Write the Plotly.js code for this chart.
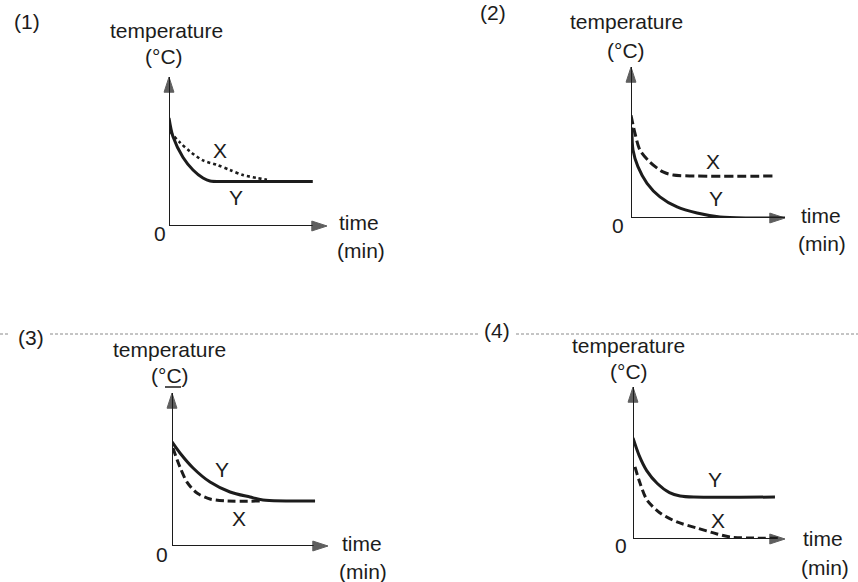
<!DOCTYPE html>
<html>
<head>
<meta charset="utf-8">
<script src="https://cdn.plot.ly/plotly-3.0.1.min.js"></script>
<style>html,body{margin:0;padding:0;background:#fff;}#chart{width:858px;height:582px;}</style>
</head>
<body>
<div id="chart"></div>
<script>
// ---- data (time in arbitrary units 0..10, temperature 0..10) ----
const panelLabels = ["(1)", "(2)", "(3)", "(4)"];
const yTitle = "temperature";
const yUnit = ["(°C)", "(°C)", "(°C)", "(°C)"];
const xTitle = "time";
const xUnit = "(min)";
const originLabel = "0";

// Panel 1
const p1TimeX = [0, 0.06, 0.7, 1.33, 2.15, 3.04, 3.86, 4.68, 5.57, 6.2];
const p1TempX = [7.1, 6.4, 5.6, 5.0, 4.4, 4.1, 3.76, 3.42, 3.22, 3.1];
const p1TimeY = [0, 0.25, 0.89, 1.52, 2.15, 2.6, 3.9, 9.1];
const p1TempY = [7.25, 6.0, 4.6, 3.76, 3.22, 3.02, 2.99, 2.99];
// Panel 2
const p2TimeX = [0, 0.26, 0.58, 1.23, 2.08, 2.73, 9.22];
const p2TempX = [6.8, 5.6, 4.5, 3.7, 3.05, 2.85, 2.78];
const p2TimeY = [0.06, 0.13, 0.45, 1.04, 1.88, 2.99, 4.29, 5.78, 7.5, 10];
const p2TempY = [6.0, 4.5, 3.4, 2.3, 1.4, 0.73, 0.33, 0.07, 0.0, 0.0];
// Panel 3
const p3TimeX = [0.06, 0.51, 0.96, 1.6, 2.44, 3.53, 5.64];
const p3TempX = [6.4, 5.16, 4.18, 3.46, 3.07, 2.94, 2.94];
const p3TimeY = [0, 0.51, 1.35, 2.44, 3.72, 5.0, 5.83, 9.17];
const p3TempY = [6.8, 6.08, 5.1, 4.18, 3.53, 3.2, 3.01, 2.94];
// Panel 4
const p4TimeX = [0.13, 0.46, 0.92, 1.78, 2.89, 4.21, 5.53, 6.38, 8.0, 9.67];
const p4TempX = [4.74, 3.68, 2.57, 1.71, 1.12, 0.72, 0.33, 0.13, 0.06, 0.05];
const p4TimeY = [0, 0.4, 0.9, 1.6, 2.4, 3.1, 4.0, 9.34];
const p4TempY = [6.64, 5.5, 4.5, 3.65, 3.05, 2.83, 2.76, 2.76];

const curveLabelX = "X";
const curveLabelY = "Y";

// ---- layout helpers ----
const W = 858, H = 582;
const INK = "#1c1c1c";
const FONT = "Liberation Sans, Arial, sans-serif";
const px = v => v / W;
const py = v => 1 - v / H;

// pixel boxes: [originX, tipX, originY, tipY]
const boxes = [
  [169, 327, 226, 77],
  [631, 785, 218, 67],
  [172, 328, 546, 393],
  [633, 785, 539, 387]
];
const xStyles = [
  {dash: "3px,3px", width: 2.6},
  {dash: "9px,4px", width: 3},
  {dash: "8px,4px", width: 3},
  {dash: "8px,4px", width: 3}
];
const series = [
  [p1TimeX, p1TempX, p1TimeY, p1TempY],
  [p2TimeX, p2TempX, p2TimeY, p2TempY],
  [p3TimeX, p3TempX, p3TimeY, p3TempY],
  [p4TimeX, p4TempX, p4TimeY, p4TempY]
];
const axisEnds = [0, 10];

// text positions (pixels)
const textPos = [
  {lab:[27,22], t:[166,30], u:[164,57], o:[160,233], time:[359,222], min:[361,250], X:[220,151], Y:[236,197]},
  {lab:[493,12], t:[626,22], u:[626,50], o:[618,226], time:[821,215], min:[822,243], X:[713,161], Y:[716,198]},
  {lab:[31,337], t:[169,349], u:[170,375], o:[162,554], time:[362,543], min:[363,571], X:[239,518], Y:[222,469]},
  {lab:[497,330], t:[628,345], u:[629,371], o:[621,545], time:[823,538], min:[825,567], X:[718,520], Y:[715,479]}
];

const data = [];
const layout = {
  width: W, height: H,
  margin: {l: 0, r: 0, t: 0, b: 0},
  paper_bgcolor: "#fff", plot_bgcolor: "rgba(0,0,0,0)",
  showlegend: false,
  font: {family: FONT, size: 21, color: INK},
  annotations: [],
  shapes: []
};

const arrowMarker = {symbol: "arrow", angleref: "previous", size: [0, 16], color: INK, line: {color: INK, width: 1}};

boxes.forEach((b, i) => {
  const n = i + 1;
  const xa = "xaxis" + (n === 1 ? "" : n), ya = "yaxis" + (n === 1 ? "" : n);
  const xr = "x" + (n === 1 ? "" : n), yr = "y" + (n === 1 ? "" : n);
  layout[xa] = {domain: [px(b[0]), px(b[1])], range: [0, 10], visible: false, anchor: yr, fixedrange: true};
  layout[ya] = {domain: [py(b[2]), py(b[3])], range: [0, 10], visible: false, anchor: xr, fixedrange: true};
  const s = series[i];
  // axes with arrowheads
  data.push({x: axisEnds, y: [0, 0], xaxis: xr, yaxis: yr, mode: "lines+markers", cliponaxis: false,
    line: {color: INK, width: 2}, marker: arrowMarker, hoverinfo: "skip"});
  data.push({x: [0, 0], y: axisEnds, xaxis: xr, yaxis: yr, mode: "lines+markers", cliponaxis: false,
    line: {color: INK, width: 2}, marker: arrowMarker, hoverinfo: "skip"});
  data.push({x: s[2], y: s[3], xaxis: xr, yaxis: yr, mode: "lines", cliponaxis: false,
             line: {color: INK, width: 3, shape: "spline", smoothing: 0.8}, hoverinfo: "skip"});
  data.push({x: s[0], y: s[1], xaxis: xr, yaxis: yr, mode: "lines", cliponaxis: false,
             line: {color: INK, width: xStyles[i].width, dash: xStyles[i].dash, shape: "spline", smoothing: 0.8}, hoverinfo: "skip"});
  const tp = textPos[i];
  const txt = (p, s, size) => layout.annotations.push({xref: "paper", yref: "paper", x: px(p[0]), y: py(p[1]),
     xanchor: "center", yanchor: "middle", text: s, showarrow: false, font: {family: FONT, size: size || 21, color: INK}});
  txt(tp.lab, panelLabels[i]);
  txt(tp.t, yTitle);
  txt(tp.u, yUnit[i]);
  txt(tp.o, originLabel);
  txt(tp.time, xTitle);
  txt(tp.min, xUnit);
  txt(tp.X, curveLabelX);
  txt(tp.Y, curveLabelY);
});

// underline under the C of panel (3)'s unit
layout.shapes.push({type: "line", xref: "paper", yref: "paper", x0: px(165), x1: px(181), y0: py(387), y1: py(387),
  line: {color: INK, width: 1.5}});

// faint separator line between the two rows
[[0, 10], [50, 478], [516, 858]].forEach(seg => {
  layout.shapes.push({type: "line", xref: "paper", yref: "paper", x0: px(seg[0]), x1: px(seg[1]), y0: py(334), y1: py(334),
    line: {color: "#8a8a8a", width: 1, dash: "3px,2px"}, layer: "below"});
});

Plotly.newPlot("chart", data, layout, {staticPlot: true, displayModeBar: false});
</script>
</body>
</html>
